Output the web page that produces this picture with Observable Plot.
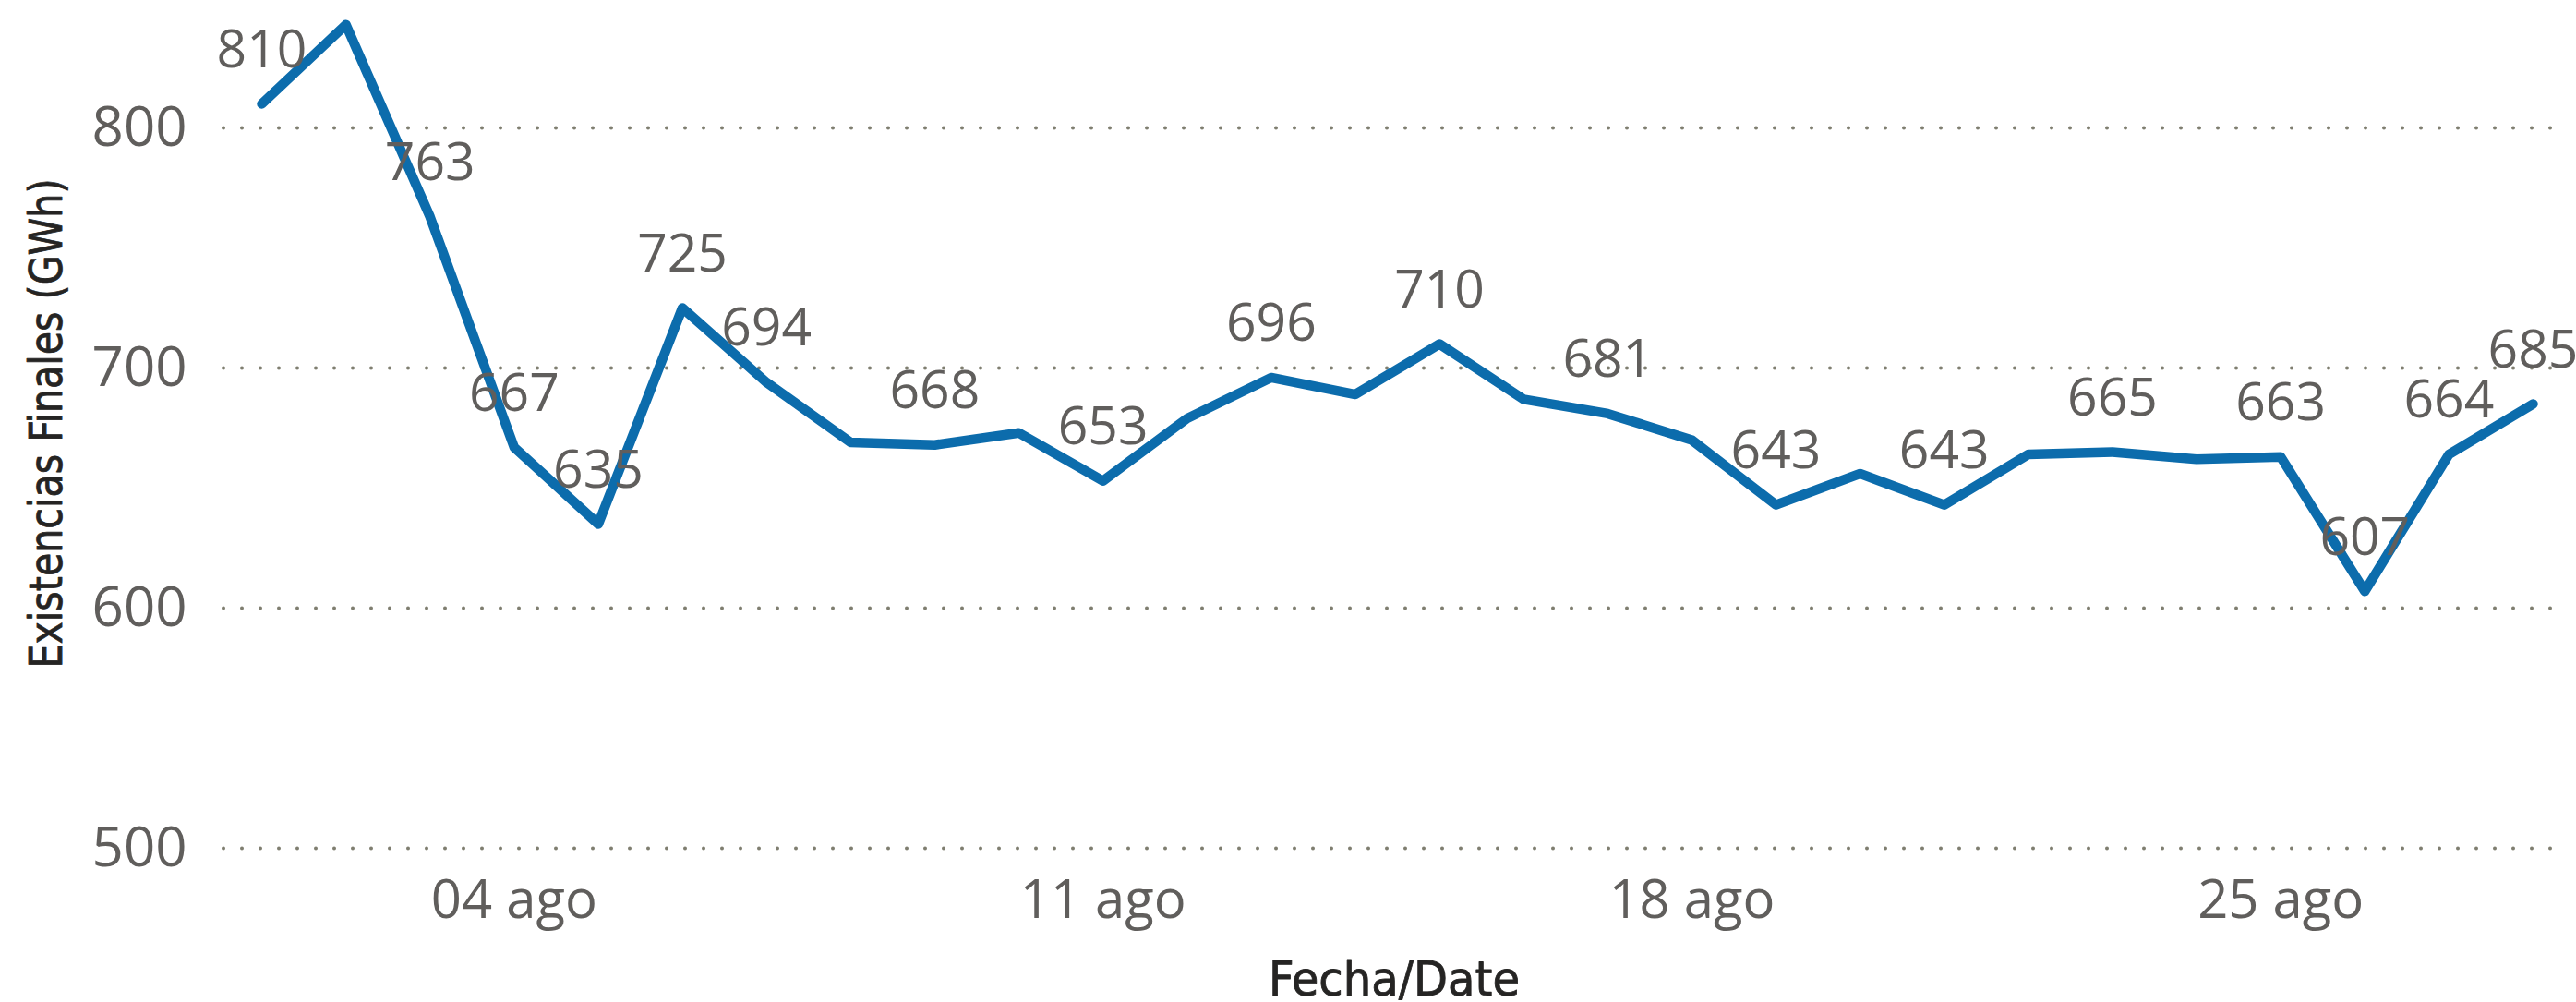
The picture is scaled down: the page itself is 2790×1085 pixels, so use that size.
<!DOCTYPE html>
<html>
<head>
<meta charset="utf-8">
<script src="https://cdn.jsdelivr.net/npm/d3@7"></script>
<script src="https://cdn.jsdelivr.net/npm/@observablehq/plot@0.6"></script>
<style>
  html, body { margin: 0; padding: 0; background: #ffffff; }
  #chart { width: 2790px; height: 1085px; }
</style>
</head>
<body>
<div id="chart"></div>
<script>
// ---- data ----
const dates = [
  "2024-08-01","2024-08-02","2024-08-03","2024-08-04","2024-08-05","2024-08-06","2024-08-07",
  "2024-08-08","2024-08-09","2024-08-10","2024-08-11","2024-08-12","2024-08-13","2024-08-14",
  "2024-08-15","2024-08-16","2024-08-17","2024-08-18","2024-08-19","2024-08-20","2024-08-21",
  "2024-08-22","2024-08-23","2024-08-24","2024-08-25","2024-08-26","2024-08-27","2024-08-28"
];
const values = [
  810, 843, 763, 667, 635, 725, 694,
  669, 668, 673, 653, 679, 696, 689,
  710, 687, 681, 670, 643, 656, 643,
  664, 665, 662, 663, 607, 664, 685
];
// dates whose data label is visible in the original
const labelDates = [
  "2024-08-01","2024-08-03","2024-08-04","2024-08-05","2024-08-06","2024-08-07","2024-08-09",
  "2024-08-11","2024-08-13","2024-08-15","2024-08-17","2024-08-19","2024-08-21","2024-08-23",
  "2024-08-25","2024-08-26","2024-08-27","2024-08-28"
];
const xTickDates = ["2024-08-04","2024-08-11","2024-08-18","2024-08-25"];
const xTickLabels = ["04 ago","11 ago","18 ago","25 ago"];
const yTicks = [500, 600, 700, 800];
const yTitle = "Existencias Finales (GWh)";
const xTitle = "Fecha/Date";

// ---- build table ----
const rows = dates.map((d, i) => ({date: new Date(d), value: values[i]}));
const labelSet = new Set(labelDates);
const labelRows = rows.filter((r, i) => labelSet.has(dates[i]));
const tickMap = new Map(xTickDates.map((d, i) => [+new Date(d), xTickLabels[i]]));

const lineColor = "#0c6cac";
const textGray = "#605e5c";
const gridColor = "#7f7e70";
const titleColor = "#252423";
const titleFont = "'DejaVu Sans Condensed', 'DejaVu Sans', sans-serif";

const chart = Plot.plot({
  width: 2790,
  height: 1085,
  marginLeft: 242,
  marginRight: 25,
  marginTop: 138,
  marginBottom: 167,
  style: {fontFamily: "'Open Sans', 'Noto Sans', sans-serif", background: "#ffffff", overflow: "visible"},
  x: {type: "utc", domain: [rows[0].date, rows[rows.length - 1].date], insetLeft: 41, insetRight: 22},
  y: {domain: [500, 800]},
  marks: [
    Plot.ruleY(yTicks, {stroke: gridColor, strokeWidth: 4, strokeDasharray: "0 20", strokeLinecap: "round"}),
    Plot.axisY({ticks: yTicks, tickSize: 0, tickPadding: 40, fontSize: 60, fill: textGray, label: null}),
    Plot.axisX({ticks: xTickDates.map(d => new Date(d)), tickFormat: d => tickMap.get(+d), tickSize: 0, tickPadding: 34, fontSize: 58, fill: textGray, label: null}),
    Plot.line(rows, {x: "date", y: "value", stroke: lineColor, strokeWidth: 10.5, strokeLinejoin: "round", strokeLinecap: "round"}),
    Plot.text(labelRows, {x: "date", y: "value", text: d => String(d.value), dy: -58, fontSize: 57, fill: textGray}),
    Plot.text([yTitle], {frameAnchor: "left", textAnchor: "middle", lineAnchor: "middle", rotate: -90, dx: -192, dy: -70, fontSize: 50, fill: titleColor, stroke: titleColor, strokeWidth: 0.8, fontFamily: titleFont}),
    Plot.text([xTitle], {frameAnchor: "bottom", textAnchor: "middle", lineAnchor: "middle", dx: 6, dy: 143, fontSize: 52, fill: titleColor, stroke: titleColor, strokeWidth: 0.8, fontFamily: titleFont})
  ]
});

document.getElementById("chart").appendChild(chart);

// squeeze the condensed axis titles to their measured lengths
d3.select(chart).selectAll("text")
  .filter(function() { return this.textContent === yTitle; })
  .attr("textLength", 530).attr("lengthAdjust", "spacingAndGlyphs").style("font-stretch", "condensed");
d3.select(chart).selectAll("text")
  .filter(function() { return this.textContent === xTitle; })
  .attr("textLength", 272).attr("lengthAdjust", "spacingAndGlyphs").style("font-stretch", "condensed");
</script>
</body>
</html>
